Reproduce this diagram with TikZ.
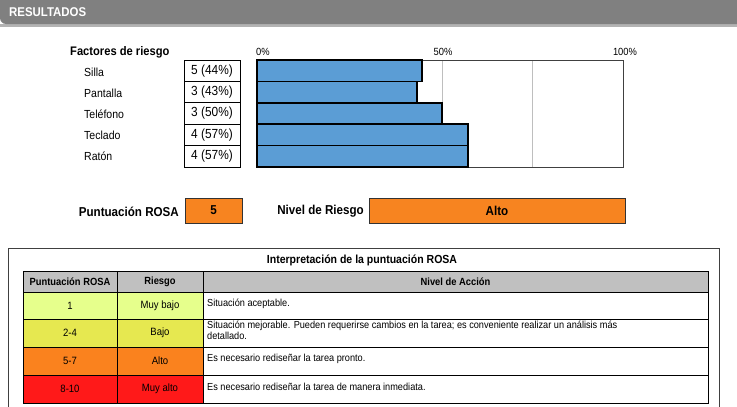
\documentclass[tikz,border=0pt]{standalone}
\usepackage{fontspec}
\setmainfont{Liberation Sans}[FakeStretch=0.9]
\definecolor{hdrgray}{RGB}{128,128,128}
\definecolor{barblue}{RGB}{91,157,213}
\definecolor{rosaorange}{RGB}{247,132,32}
\definecolor{lvlone}{RGB}{230,255,140}
\definecolor{lvltwo}{RGB}{230,232,80}
\definecolor{lvlthree}{RGB}{250,130,30}
\definecolor{lvlfour}{RGB}{255,25,25}
\definecolor{thgray}{RGB}{192,192,192}
\definecolor{gridgray}{RGB}{190,190,190}
\begin{document}
\begin{tikzpicture}[x=1pt,y=-1pt,
  lbl/.style={anchor=west,inner sep=0pt,font=\fontsize{11.7}{13}\selectfont},
  boldlbl/.style={anchor=west,inner sep=0pt,font=\fontsize{12.4}{14}\selectfont\bfseries},
  valbox/.style={draw=black,line width=1pt,inner sep=0pt,font=\fontsize{13.2}{15}\selectfont},
  bar/.style={draw=black,line width=1.5pt,fill=barblue},
  pct/.style={inner sep=0pt,font=\fontsize{10.4}{12}\selectfont},
  cell/.style={draw=black,line width=1pt,inner sep=0pt,font=\fontsize{10.6}{12}\selectfont},
  thcell/.style={cell,fill=thgray,font=\fontsize{10.4}{12}\selectfont\bfseries},
  actxt/.style={anchor=west,inner sep=0pt,font=\fontsize{10.2}{12}\selectfont,align=left},
  bigbold/.style={inner sep=0pt,font=\fontsize{12.9}{14}\selectfont\bfseries}
]
\useasboundingbox (0,0) rectangle (737,407);
% header
\fill[hdrgray!60] (0,24) rectangle (737,26.5);
\fill[hdrgray] (0,0) -- (0,18) [rounded corners=6pt] -- (0,24) [sharp corners] -- (737,24) -- (737,0) -- cycle;
\node[anchor=west,inner sep=0pt,text=white,font=\fontsize{12.7}{14}\selectfont\bfseries] (title) at (9,12) {RESULTADOS};

% factors
\node[boldlbl] (fac) at (70,52) {Factores de riesgo};
\node[lbl] (l1) at (84,72) {Silla};
\node[lbl] (l2) at (84,93) {Pantalla};
\node[lbl] (l3) at (84,114) {Teléfono};
\node[lbl] (l4) at (84,135) {Teclado};
\node[lbl] (l5) at (84,156.5) {Ratón};

\node[valbox,minimum width=56pt,minimum height=21.4pt] (v1) at (212,70.7) {5 (44\%)};
\node[valbox,minimum width=56pt,minimum height=21.4pt] (v2) at (212,92.1) {3 (43\%)};
\node[valbox,minimum width=56pt,minimum height=21.4pt] (v3) at (212,113.5) {3 (50\%)};
\node[valbox,minimum width=56pt,minimum height=21.4pt] (v4) at (212,134.9) {4 (57\%)};
\node[valbox,minimum width=56pt,minimum height=21.4pt] (v5) at (212,156.3) {4 (57\%)};

% chart
\draw[gridgray,line width=0.8pt] (442,60) -- (442,167);
\draw[gridgray,line width=0.8pt] (532,60) -- (532,167);
\draw[black!75,line width=1pt] (257,60) rectangle (623,167);
\node[pct] (p0) at (263,52) {0\%};
\node[pct] (p50) at (443,52) {50\%};
\node[pct] (p100) at (625,52) {100\%};
\draw[bar] (257,60) rectangle (422,81.4);
\draw[bar] (257,81.4) rectangle (417,102.8);
\draw[bar] (257,102.8) rectangle (442,124.2);
\draw[bar] (257,124.2) rectangle (468,145.6);
\draw[bar] (257,145.6) rectangle (468,167);

% score row
\node[bigbold,anchor=east] (ps) at (179,211.5) {Puntuación ROSA};
\node[bigbold,draw=black!80,line width=1pt,fill=rosaorange,minimum width=57pt,minimum height=25pt] (psv) at (213.5,210.5) {5};
\node[bigbold,anchor=east] (nr) at (364,211.5) {Nivel de Riesgo};
\node[bigbold,draw=black!80,line width=1pt,fill=rosaorange,minimum width=256pt,minimum height=25pt] (nrv) at (497,210.5) {Alto};

% interpretation table
\draw[black!75,line width=1pt] (8,248) -- (719,248) -- (719,412);
\draw[black!75,line width=1pt] (8,248) -- (8,412);
\node[inner sep=0pt,font=\fontsize{11.7}{13}\selectfont\bfseries] (it) at (362,260) {Interpretación de la puntuación ROSA};

\node[thcell,minimum width=94pt,minimum height=21pt] (h1) at (70,281.5) {Puntuación ROSA};
\node[thcell,minimum width=86pt,minimum height=21pt] (h2) at (160,281.5) {Riesgo};
\node[thcell,minimum width=505pt,minimum height=21pt] (h3) at (455.5,281.5) {Nivel de Acción};

\node[cell,fill=lvlone,minimum width=94pt,minimum height=27.5pt] (a1) at (70,305.75) {1};
\node[cell,fill=lvlone,minimum width=86pt,minimum height=27.5pt] (b1) at (160,305.75) {Muy bajo};
\node[cell,minimum width=505pt,minimum height=27.5pt] (c1) at (455.5,305.75) {};
\node[actxt] (t1) at (207,303.5) {Situación aceptable.};

\node[cell,fill=lvltwo,minimum width=94pt,minimum height=27.5pt] (a2) at (70,333.25) {2-4};
\node[cell,fill=lvltwo,minimum width=86pt,minimum height=27.5pt] (b2) at (160,333.25) {Bajo};
\node[cell,minimum width=505pt,minimum height=27.5pt] (c2) at (455.5,333.25) {};
\node[actxt,anchor=north west,font=\fontsize{10.2}{11.5}\selectfont] (t2) at (207,320.5) {Situación mejorable. Pueden requerirse cambios en la tarea; es conveniente realizar un análisis más\\detallado.};

\node[cell,fill=lvlthree,minimum width=94pt,minimum height=28pt] (a3) at (70,361) {5-7};
\node[cell,fill=lvlthree,minimum width=86pt,minimum height=28pt] (b3) at (160,361) {Alto};
\node[cell,minimum width=505pt,minimum height=28pt] (c3) at (455.5,361) {};
\node[actxt] (t3) at (207,359) {Es necesario rediseñar la tarea pronto.};

\node[cell,fill=lvlfour,minimum width=94pt,minimum height=28pt] (a4) at (70,389) {8-10};
\node[cell,fill=lvlfour,minimum width=86pt,minimum height=28pt] (b4) at (160,389) {Muy alto};
\node[cell,minimum width=505pt,minimum height=28pt] (c4) at (455.5,389) {};
\node[actxt] (t4) at (207,387) {Es necesario rediseñar la tarea de manera inmediata.};
\end{tikzpicture}
\end{document}
